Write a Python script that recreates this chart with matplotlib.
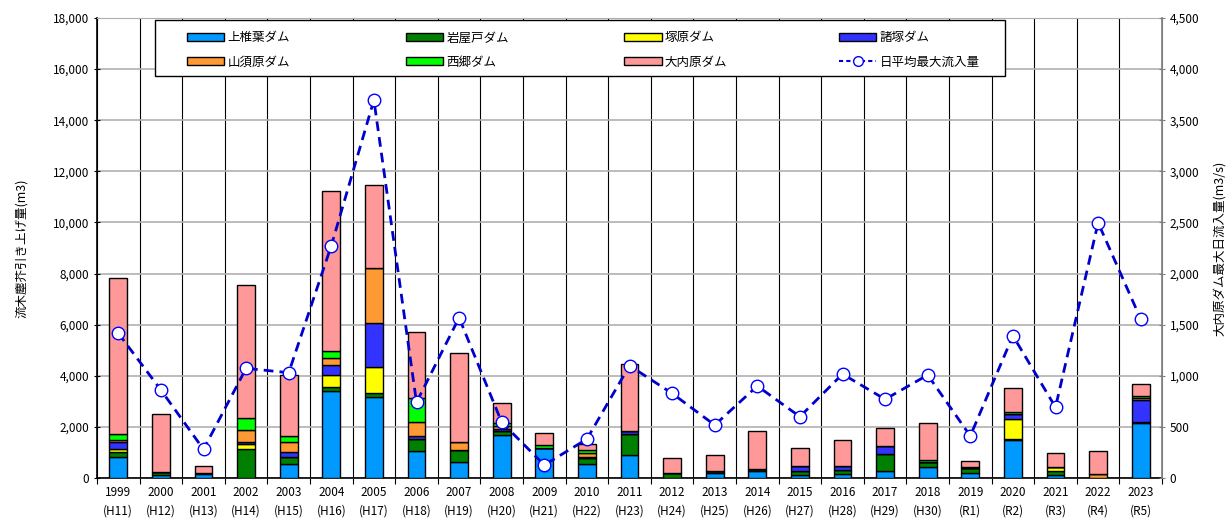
import matplotlib
matplotlib.use("Agg")
import matplotlib.pyplot as plt
import numpy as np
from matplotlib.patches import Patch, Rectangle
from matplotlib.lines import Line2D
from matplotlib.legend import Legend

plt.rcParams['font.family'] = ['Noto Sans CJK JP', 'DejaVu Sans']

years = ["1999", "2000", "2001", "2002", "2003", "2004", "2005", "2006", "2007", "2008",
         "2009", "2010", "2011", "2012", "2013", "2014", "2015", "2016", "2017", "2018",
         "2019", "2020", "2021", "2022", "2023"]
eras = ["H11", "H12", "H13", "H14", "H15", "H16", "H17", "H18", "H19", "H20",
        "H21", "H22", "H23", "H24", "H25", "H26", "H27", "H28", "H29", "H30",
        "R1", "R2", "R3", "R4", "R5"]

kamishiiba = [830, 120, 150, 0, 535, 3400, 3160, 1056, 640, 1670, 1160, 550, 900, 0, 210, 270, 120, 160, 290, 420, 180, 1480, 130, 0, 2140]
iwayado    = [200, 100, 30, 1130, 275, 170, 157, 457, 457, 180, 30, 220, 820, 200, 70, 100, 170, 140, 650, 220, 200, 40, 150, 0, 40]
tsukabaru  = [90, 0, 0, 220, 0, 457, 1017, 0, 0, 0, 0, 0, 0, 0, 0, 0, 0, 0, 0, 0, 0, 770, 170, 0, 0]
morotsuka  = [300, 0, 0, 50, 207, 380, 1722, 130, 0, 50, 0, 60, 130, 0, 0, 0, 190, 170, 310, 0, 0, 200, 0, 0, 880]
yamasubaru = [70, 0, 0, 480, 380, 298, 2152, 535, 300, 150, 0, 160, 0, 0, 0, 0, 0, 0, 0, 0, 0, 30, 0, 140, 80]
saigo      = [220, 0, 0, 460, 246, 262, 0, 965, 0, 100, 100, 100, 0, 0, 0, 0, 0, 0, 0, 80, 60, 60, 0, 0, 60]
ouchibaru  = [6130, 2270, 290, 5210, 2387, 6273, 3262, 2582, 3483, 770, 460, 230, 2600, 570, 620, 1480, 680, 1020, 690, 1445, 240, 930, 515, 916, 480]

max_inflow = [1416, 861, 280, 1073, 1030, 2273, 3698, 740, 1568, 545, 127, 381, 1099, 828, 518, 900, 600, 1017, 770, 1008, 411, 1392, 692, 2498, 1555]

series_names = ["上椎葉ダム", "岩屋戸ダム", "塚原ダム", "諸塚ダム", "山須原ダム", "西郷ダム", "大内原ダム"]
series_vals = [kamishiiba, iwayado, tsukabaru, morotsuka, yamasubaru, saigo, ouchibaru]
colors = ["#0099FF", "#008000", "#FFFF00", "#3333FF", "#FF9933", "#00FF00", "#FF9999"]
line_name = "日平均最大流入量"

fig = plt.figure(figsize=(12.26, 5.18), dpi=100)
ax = fig.add_axes([97/1226, 1-478/518, (1162-97)/1226, 460/518])

x = np.arange(len(years))
bottom = np.zeros(len(years))
for name, vals, c in zip(series_names, series_vals, colors):
    v = np.array(vals, dtype=float)
    ax.bar(x, v, width=0.42, bottom=bottom, color=c, edgecolor="black", linewidth=1.0, zorder=3)
    bottom += v

ax.set_xlim(-0.5, len(years) - 0.5)
ax.set_ylim(0, 18000)
ax.set_yticks(np.arange(0, 18001, 2000))
ax.set_yticklabels([f"{v:,}" for v in range(0, 18001, 2000)], fontsize=8.5)
ax.set_xticks(x)
ax.set_xticklabels([f"{y}\n({e})" for y, e in zip(years, eras)], fontsize=8.5, linespacing=1.5)
ax.set_xticks(np.arange(-0.5, len(years), 1.0), minor=True)
ax.tick_params(axis='x', which='major', length=0, pad=6)
ax.tick_params(axis='x', which='minor', length=4, width=0.8, color='black', direction='out')
ax.tick_params(axis='y', which='major', length=4, width=0.8, direction='inout', color='black')
ax.grid(axis='y', which='major', color='#B0B0B0', linewidth=1.2, zorder=0)
ax.grid(axis='x', which='minor', color='black', linewidth=0.8, zorder=0)
ax.set_axisbelow(True)
for s in ['left', 'bottom']:
    ax.spines[s].set_color('black')
    ax.spines[s].set_linewidth(1.2)
ax.spines['top'].set_color('#B0B0B0')
ax.spines['right'].set_color('#808080')
ax.set_ylabel("流木塵芥引き上げ量(m3)", fontsize=9, labelpad=18)

ax2 = ax.twinx()
ax2.set_ylim(0, 4500)
ax2.set_yticks(np.arange(0, 4501, 500))
ax2.set_yticklabels([f"{v:,}" for v in range(0, 4501, 500)], fontsize=8.5)
ax2.tick_params(axis='y', length=4, width=0.8, direction='inout', color='#808080')
ax2.spines['right'].set_color('#808080')
ax2.spines['right'].set_linewidth(1.2)
ax2.spines['top'].set_visible(False)
ax2.spines['left'].set_visible(False)
ax2.spines['bottom'].set_visible(False)
ax2.plot(x, max_inflow, color="#0000CC", linestyle=(0, (3.5, 2.2)), linewidth=2,
         marker='o', markersize=9, markerfacecolor='white', markeredgecolor='#0000FF',
         markeredgewidth=1.0, zorder=5)
ax2.set_ylabel("大内原ダム最大日流入量(m3/s)", fontsize=9, labelpad=10)

# legend frame
frame = Rectangle((0.0545, 0.874), 0.798, 0.1215, transform=ax2.transAxes,
                  facecolor='white', edgecolor='black', linewidth=1.0, zorder=9)
ax2.add_patch(frame)

handles = [Patch(facecolor=c, edgecolor='black', linewidth=1.0) for c in colors]
handles.append(Line2D([0], [0], color="#0000CC", linestyle=(0, (2, 1.5)), linewidth=1.5,
                      marker='o', markersize=7, markerfacecolor='white', markeredgecolor='#0000FF'))
labels = series_names + [line_name]
col_x = [0.0883, 0.294, 0.499, 0.7005]
for j in range(4):
    idx = [j, j + 4]
    lg = Legend(ax2, [handles[i] for i in idx], [labels[i] for i in idx],
                loc='upper left', bbox_to_anchor=(col_x[j] - 0.004, 0.971),
                bbox_transform=ax2.transAxes,
                fontsize=9, frameon=False, handlelength=3.0, handleheight=0.55,
                handletextpad=0.25, borderaxespad=0, borderpad=0, labelspacing=0.9)
    lg.set_zorder(10)
    ax2.add_artist(lg)

fig.savefig("out.png", dpi=100)
